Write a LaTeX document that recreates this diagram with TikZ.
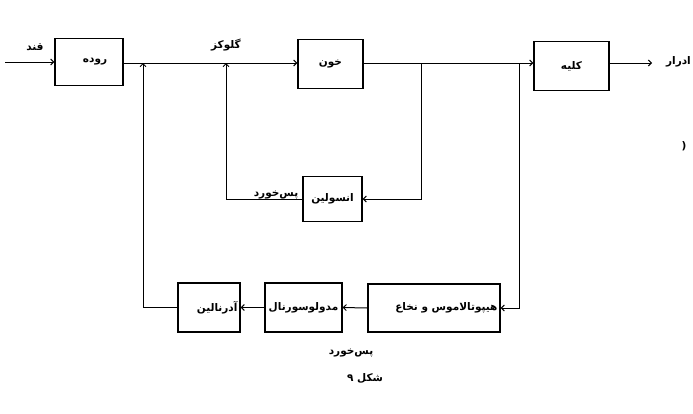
\documentclass[tikz,border=0pt]{standalone}
\usepackage{fontspec}
\newfontfamily\fa[Script=Arabic]{DejaVu Sans}
\TeXXeTstate=1
\usetikzlibrary{arrows.meta}
\begin{document}
\begin{tikzpicture}[x=1pt,y=-1pt,
  box/.style={draw, line width=1.3pt, inner sep=0pt},
  lbl/.style={font=\fa\fontsize{10.5}{12}\selectfont\bfseries, inner sep=0pt},
  con/.style={line width=1pt, -{Straight Barb[length=3pt,width=6pt]}}]
\useasboundingbox (0,0) rectangle (693,413);
% boxes
\node[box, minimum width=68pt, minimum height=47pt] (roodeh) at (89,62) {};
\node[box, minimum width=65pt, minimum height=49pt] (khoon) at (330.5,64) {};
\node[box, minimum width=75pt, minimum height=49pt] (kolieh) at (571.5,66) {};
\node[box, minimum width=59pt, minimum height=45pt] (insulin) at (332.5,199) {};
\node[box, minimum width=132pt, minimum height=48pt] (hypo) at (434,308) {};
\node[box, minimum width=77pt, minimum height=49pt] (medullo) at (303.5,307.5) {};
\node[box, minimum width=62pt, minimum height=49pt] (adren) at (209,307.5) {};
% box texts
\node[lbl] (troodeh) at ([xshift=6pt]roodeh.center) {\beginR روده\endR};
\node[lbl] (tkhoon) at (khoon) {\beginR خون\endR};
\node[lbl] (tkolieh) at (kolieh) {\beginR کلیه\endR};
\node[lbl] (tinsulin) at (insulin) {\beginR انسولین\endR};
\node[lbl, anchor=east] (thypo) at ([xshift=-3pt]hypo.east) {\beginR هیپوتالاموس و نخاع\endR};
\node[lbl] (tmedullo) at (medullo) {\beginR مدولوسورنال\endR};
\node[lbl, anchor=east] (tadren) at ([xshift=-3pt]adren.east) {\beginR آدرنالین\endR};
% coordinates
\coordinate (main) at (0,63);
\coordinate (in) at (5,62);
\coordinate (out) at (652,63);
\coordinate (j1) at (143,63);
\coordinate (j2) at (226,63);
\coordinate (s1) at (421,63);
\coordinate (s2) at (519,63);
% connectors
\draw[con] (in) -- (in -| roodeh.west);
\draw[con] (roodeh.east |- main) -- (khoon.west |- main);
\draw[con] (khoon.east |- main) -- (kolieh.west |- main);
\draw[con] (kolieh.east |- main) -- (out);
\draw[con] (s1) |- (insulin.east);
\draw[con] (insulin.west) -| (j2);
\draw[con] (s2) |- (hypo.east);
\draw[con] (hypo.west) -- (medullo.east);
\draw[con] (medullo.west) -- (adren.east);
\draw[con] (adren.west) -| (j1);
% labels
\node[lbl] (lqand) at (35,47) {\beginR قند\endR};
\node[lbl] (lgluc) at (226,45) {\beginR گلوکز\endR};
\node[lbl, anchor=east] (lurine) at (691,62) {\beginR ادرار\endR};
\node[lbl] (lfb1) at (276,195) {\beginR پس‌خورد\endR};
\node[lbl] (lfb2) at (351,353) {\beginR پس‌خورد\endR};
\node[lbl] (lfig) at (365,378) {\beginR شکل ۹\endR};
\node[lbl] (lpar) at (684,146) {(};
\end{tikzpicture}
\end{document}
